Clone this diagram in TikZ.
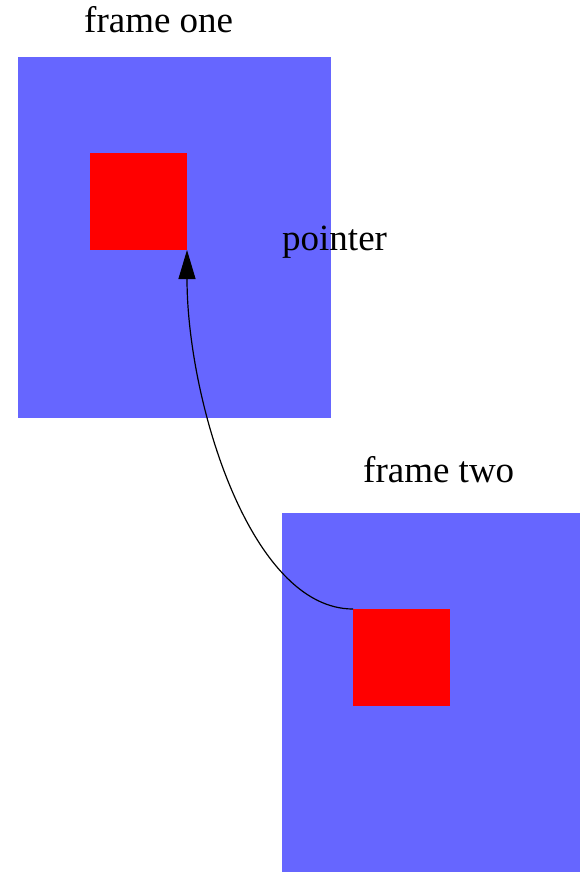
\documentclass[tikz,border=0pt]{standalone}
\usepackage{fontspec}
\setmainfont{Liberation Serif}
\usetikzlibrary{arrows.meta}
\definecolor{frameblue}{HTML}{6666FF}
\definecolor{ptrred}{HTML}{FF0000}
\begin{document}
\begin{tikzpicture}[x=1pt,y=-1pt,
  framebox/.style={fill=frameblue,draw=none,inner sep=0pt,outer sep=0pt,anchor=north west},
  ptrbox/.style={fill=ptrred,draw=none,inner sep=0pt,outer sep=0pt,anchor=north west,minimum width=97pt,minimum height=97pt},
  lbl/.style={inner sep=0pt,anchor=base west,font=\fontsize{37}{40}\selectfont},
  ptrarrow/.style={line width=1.2pt,-{Triangle[length=29pt,width=17pt]}}]
\useasboundingbox (0,0) rectangle (580,872);
\node[framebox,minimum width=313pt,minimum height=361pt] (f1) at (18,57) {};
\node[framebox,minimum width=298pt,minimum height=359pt] (f2) at (282,513) {};
\node[ptrbox] (s1) at (90,153) {};
\node[ptrbox] (s2) at (353,609) {};
\node[lbl] (t1) at (84,33) {frame one};
\node[lbl] (t2) at (363,482) {frame two};
\node[lbl] (tp) at (282,250) {pointer};
\draw[ptrarrow] (s2.north west) .. controls (250,609) and (187,400) .. (s1.south east);
\end{tikzpicture}
\end{document}
